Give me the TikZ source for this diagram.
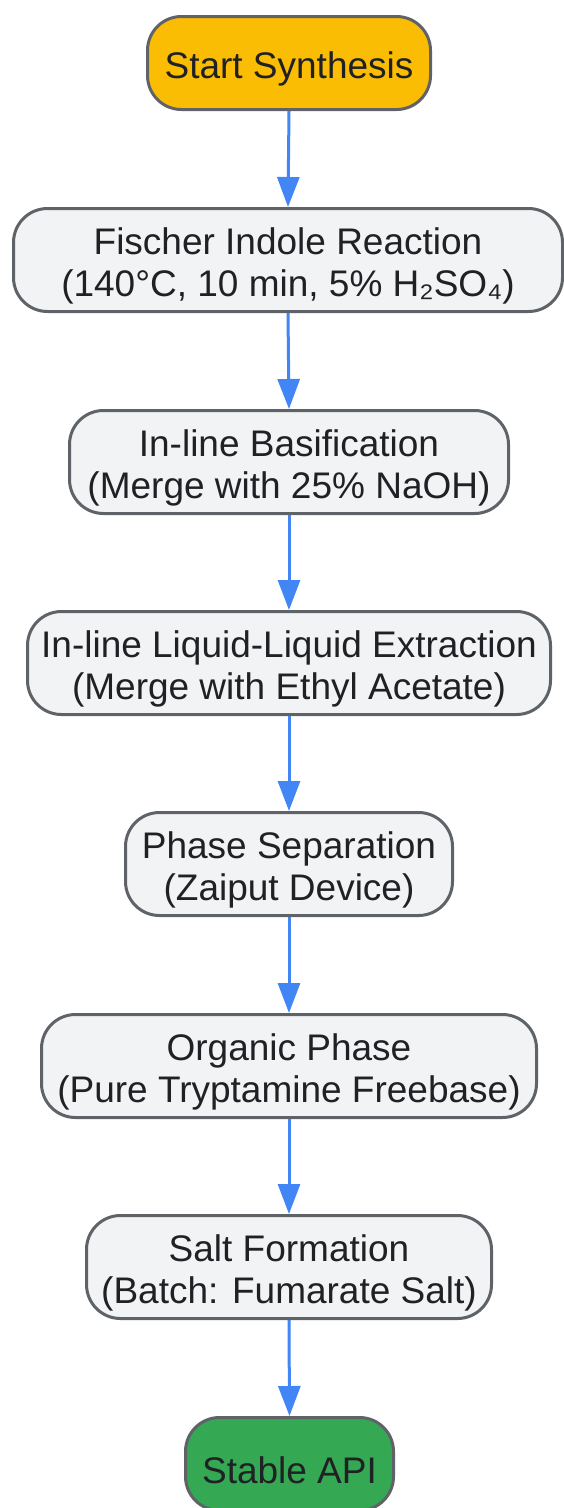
\documentclass[tikz,border=0pt]{standalone}
\usepackage{fontspec}
\setmainfont{Liberation Sans}
\usetikzlibrary{arrows.meta}

\definecolor{boxfill}{HTML}{F1F3F4}
\definecolor{boxline}{HTML}{5F6368}
\definecolor{textdark}{HTML}{202124}
\definecolor{startfill}{HTML}{FBBC04}
\definecolor{endfill}{HTML}{34A853}
\definecolor{flowblue}{HTML}{4285F4}

% Stuetze fuer die erste Zeile
\newcommand{\liftline}{\rule{0pt}{39pt}}

\begin{document}
\begin{tikzpicture}[x=1pt,y=-1pt,
    stepbox/.style={draw=boxline, line width=3pt, fill=boxfill, rounded corners=34pt,
      align=center, text=textdark, inner sep=0pt, minimum height=103pt,
      font=\fontsize{37}{42}\selectfont},
    flow/.style={draw=flowblue, line width=3pt, -{Triangle[length=30pt,width=22pt]}}]

    % Rahmen der Seite
    \useasboundingbox (0,0) rectangle (564,1508);

    % Start und Ende
    \node[stepbox, fill=startfill, minimum width=283pt, minimum height=93pt] (start) at (289,63) {\liftline Start Synthesis};
    \node[stepbox, fill=endfill, minimum width=208pt, minimum height=93pt] (api) at (289.5,1464) {\liftline Stable API};

    % Schritte der Synthese
    \node[stepbox, minimum width=549pt] (fischer) at (288,260) {\liftline Fischer Indole Reaction\\(140°C, 10 min, 5\% H₂SO₄)};
    \node[stepbox, minimum width=439pt] (basify) at (289,462) {\liftline In-line Basification\\(Merge with 25\% NaOH)};
    \node[stepbox, minimum width=523pt] (extract) at (289,663) {\liftline In-line Liquid-Liquid Extraction\\(Merge with Ethyl Acetate)};
    \node[stepbox, minimum width=327pt] (separate) at (289,864) {\liftline Phase Separation\\(Zaiput Device)};
    \node[stepbox, minimum width=495pt] (organic) at (289,1066) {\liftline Organic Phase\\(Pure Tryptamine Freebase)};
    \node[stepbox, minimum width=405pt] (salt) at (289,1267) {\liftline Salt Formation\\(Batch: Fumarate Salt)};

    % Pfeile
    \draw[flow] (start.south) -- (fischer.north);
    \draw[flow] (fischer.south) -- (basify.north);
    \draw[flow] (basify.south) -- (extract.north);
    \draw[flow] (extract.south) -- (separate.north);
    \draw[flow] (separate.south) -- (organic.north);
    \draw[flow] (organic.south) -- (salt.north);
    \draw[flow] (salt.south) -- (api.north);

\end{tikzpicture}
\end{document}
